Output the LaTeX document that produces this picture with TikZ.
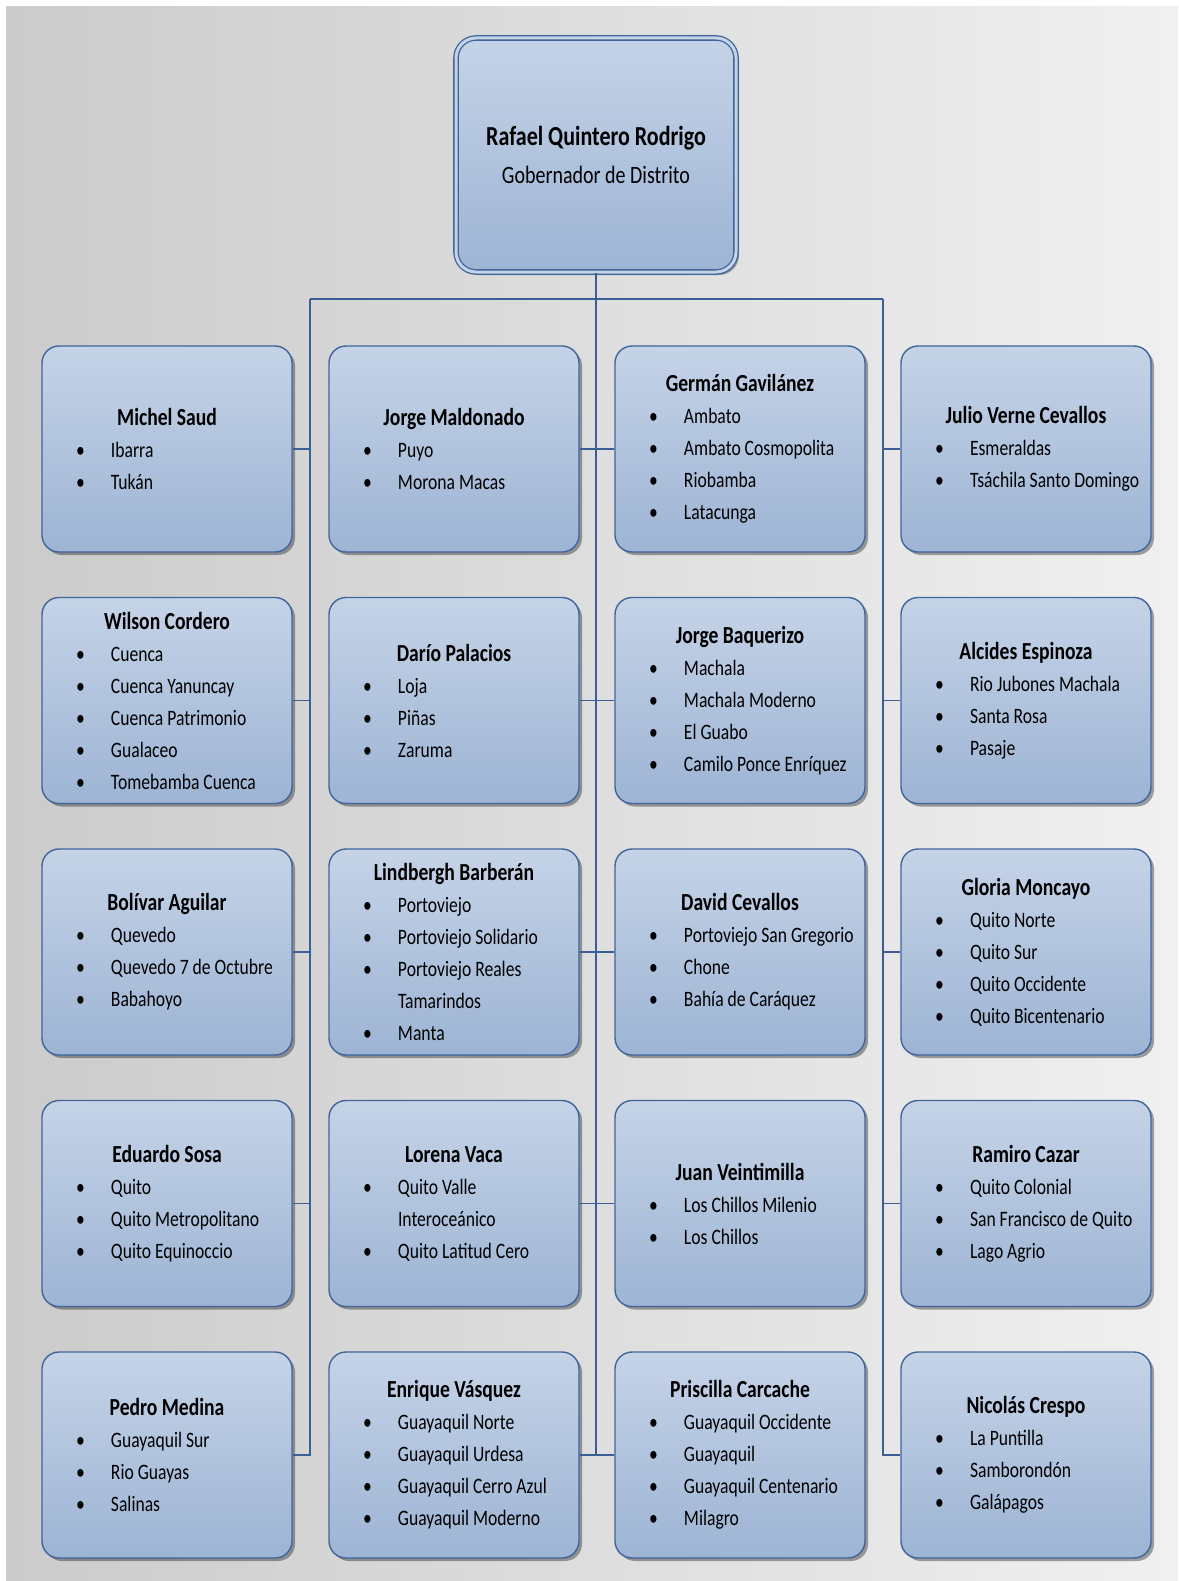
\documentclass[tikz,border=0pt]{standalone}
\usepackage{fontspec}
\setmainfont{Carlito}[FakeStretch=0.8]
\usetikzlibrary{shadows}
\definecolor{bxtop}{HTML}{C5D3E7}
\definecolor{bxbot}{HTML}{9DB4D4}
\definecolor{bxline}{HTML}{3F659B}
\definecolor{conn}{HTML}{3B5E95}
\definecolor{bgl}{HTML}{CBCBCB}
\definecolor{bgr}{HTML}{F0F0F0}
\tikzset{
  obox/.style={rectangle, rounded corners=17pt, draw=bxline, line width=1.4pt,
    top color=bxtop, bottom color=bxbot, minimum width=250pt, minimum height=206pt,
    inner sep=0pt, text=black,
    drop shadow={shadow xshift=3pt, shadow yshift=-3pt, fill=black, opacity=0.35}},
  topbox/.style={obox, minimum width=280pt, minimum height=234pt, rounded corners=20pt,
    double=bxtop, double distance=3pt, line width=1.3pt},
  conline/.style={draw=conn, line width=1.7pt}
}
\newcommand\bi[1]{\par\hspace*{34pt}\makebox[35pt][l]{\textbullet}\mbox{#1}}
\newcommand\bcn[1]{\par\hspace*{69pt}\mbox{#1}}
\newcommand\ob[5]{\node[obox] (#1) at (#2,#3) {\begin{minipage}{250pt}\fontsize{22}{32}\selectfont\makebox[250pt][c]{\fontsize{24.5}{32}\selectfont\bfseries #4}#5\end{minipage}};}
\begin{document}
\begin{tikzpicture}[x=1pt,y=-1pt]
\fill[white] (0,0) rectangle (1178,1581);
\fill[left color=bgl, right color=bgr] (6,7) rectangle (1178,1581);
\useasboundingbox (0,0) rectangle (1178,1581);
% junctions
\coordinate (jL) at (310,299);
\coordinate (jC) at (596,299);
\coordinate (jR) at (883,299);
% top box
\node[topbox] (top) at (596,155) {\begin{minipage}{280pt}\centering{\fontsize{27.5}{38}\selectfont\textbf{Rafael Quintero Rodrigo}\par}\fontsize{25}{38}\selectfont Gobernador de Distrito\end{minipage}};
% column 1
\ob{a1}{167}{449}{Michel Saud}{\bi{Ibarra}\bi{Tukán}}
\ob{a2}{167}{700.5}{Wilson Cordero}{\bi{Cuenca}\bi{Cuenca Yanuncay}\bi{Cuenca Patrimonio}\bi{Gualaceo}\bi{Tomebamba Cuenca}}
\ob{a3}{167}{952}{Bolívar Aguilar}{\bi{Quevedo}\bi{Quevedo 7 de Octubre}\bi{Babahoyo}}
\ob{a4}{167}{1203.5}{Eduardo Sosa}{\bi{Quito}\bi{Quito Metropolitano}\bi{Quito Equinoccio}}
\ob{a5}{167}{1455}{Pedro Medina}{\bi{Guayaquil Sur}\bi{Rio Guayas}\bi{Salinas}}
% column 2
\ob{b1}{454}{449}{Jorge Maldonado}{\bi{Puyo}\bi{Morona Macas}}
\ob{b2}{454}{700.5}{Darío Palacios}{\bi{Loja}\bi{Piñas}\bi{Zaruma}}
\ob{b3}{454}{952}{Lindbergh Barberán}{\bi{Portoviejo}\bi{Portoviejo Solidario}\bi{Portoviejo Reales}\bcn{Tamarindos}\bi{Manta}}
\ob{b4}{454}{1203.5}{Lorena Vaca}{\bi{Quito Valle}\bcn{Interoceánico}\bi{Quito Latitud Cero}}
\ob{b5}{454}{1455}{Enrique Vásquez}{\bi{Guayaquil Norte}\bi{Guayaquil Urdesa}\bi{Guayaquil Cerro Azul}\bi{Guayaquil Moderno}}
% column 3
\ob{c1}{740}{449}{Germán Gavilánez}{\bi{Ambato}\bi{Ambato Cosmopolita}\bi{Riobamba}\bi{Latacunga}}
\ob{c2}{740}{700.5}{Jorge Baquerizo}{\bi{Machala}\bi{Machala Moderno}\bi{El Guabo}\bi{Camilo Ponce Enríquez}}
\ob{c3}{740}{952}{David Cevallos}{\bi{Portoviejo San Gregorio}\bi{Chone}\bi{Bahía de Caráquez}}
\ob{c4}{740}{1203.5}{Juan Veintimilla}{\bi{Los Chillos Milenio}\bi{Los Chillos}}
\ob{c5}{740}{1455}{Priscilla Carcache}{\bi{Guayaquil Occidente}\bi{Guayaquil}\bi{Guayaquil Centenario}\bi{Milagro}}
% column 4
\ob{d1}{1026}{449}{Julio Verne Cevallos}{\bi{Esmeraldas}\bi{Tsáchila Santo Domingo}}
\ob{d2}{1026}{700.5}{Alcides Espinoza}{\bi{Rio Jubones Machala}\bi{Santa Rosa}\bi{Pasaje}}
\ob{d3}{1026}{952}{Gloria Moncayo}{\bi{Quito Norte}\bi{Quito Sur}\bi{Quito Occidente}\bi{Quito Bicentenario}}
\ob{d4}{1026}{1203.5}{Ramiro Cazar}{\bi{Quito Colonial}\bi{San Francisco de Quito}\bi{Lago Agrio}}
\ob{d5}{1026}{1455}{Nicolás Crespo}{\bi{La Puntilla}\bi{Samborondón}\bi{Galápagos}}
% connectors
\draw[conline] (top.south) -- (jC);
\draw[conline] (jL) -- (jR);
\draw[conline] (jL) -- (jL |- a5.east) -- (a5.east);
\foreach \n in {a1,a2,a3,a4} \draw[conline] (\n.east) -- (\n.east -| jL);
\draw[conline] (jC) -- (jC |- b5.east);
\foreach \n in {b1,b2,b3,b4,b5} \draw[conline] (\n.east) -- (\n.east -| jC);
\foreach \n in {c1,c2,c3,c4,c5} \draw[conline] (\n.west) -- (\n.west -| jC);
\draw[conline] (jR) -- (jR |- d5.west) -- (d5.west);
\foreach \n in {d1,d2,d3,d4} \draw[conline] (\n.west) -- (\n.west -| jR);
\end{tikzpicture}
\end{document}
